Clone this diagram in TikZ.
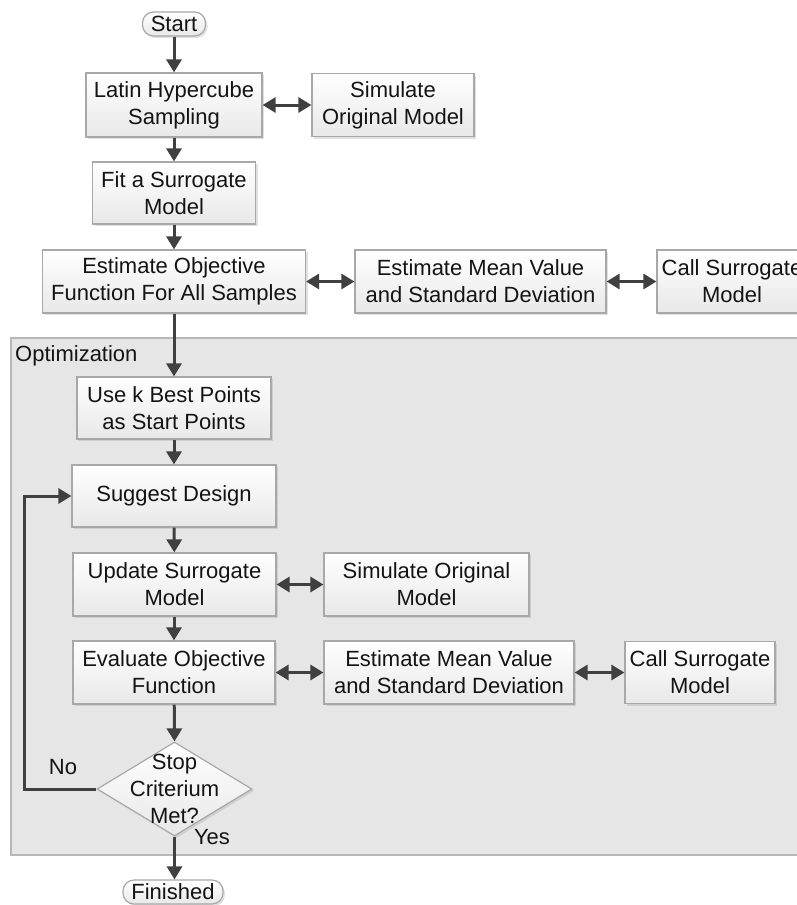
\documentclass[tikz,border=0pt]{standalone}
\usepackage{fontspec}
\setmainfont{Liberation Sans}
\usetikzlibrary{arrows.meta,shadows,shapes.geometric}
\definecolor{arr}{HTML}{404040}
\definecolor{bord}{HTML}{A8A8A8}
\definecolor{regfill}{HTML}{E6E6E6}
\definecolor{regbord}{HTML}{B8B8B8}
\definecolor{txt}{HTML}{141414}
\begin{document}
\begin{tikzpicture}[x=1pt,y=-1pt,
  font=\fontsize{22}{27}\selectfont,
  shade/.style={top color=white, bottom color=black!9,
    drop shadow={shadow xshift=2pt,shadow yshift=-2pt,opacity=0.35,fill=black!35}},
  box/.style={shade, draw=bord, line width=1.2pt, align=center, inner sep=0pt, text=txt},
  term/.style={box, rounded corners=11pt, minimum height=24pt},
  decis/.style={shade, draw=bord, line width=1.2pt, diamond, inner sep=0pt},
  lbl/.style={text=txt, inner sep=0pt, align=center},
  flow/.style={draw=arr, line width=3pt, -{Triangle[length=13pt,width=15pt]}},
  both/.style={draw=arr, line width=3pt, {Triangle[length=13pt,width=15pt]}-{Triangle[length=13pt,width=15pt]}},
]
\useasboundingbox (0,0) rectangle (797,905);
\clip (0,0) rectangle (797,905);

% optimization region
\path[draw=regbord, fill=regfill, line width=1.5pt] (11,338) rectangle (830,855);
\node[lbl, anchor=west] (optlabel) at (15,356) {Optimization};

% top part
\node[term, minimum width=63pt] (start) at (174,24) {Start};
\node[box, minimum width=176pt, minimum height=64pt] (lhs) at (174,105) {Latin Hypercube\\Sampling};
\node[box, minimum width=162pt, minimum height=63pt] (sim1) at (393,105) {Simulate\\Original Model};
\node[box, minimum width=163pt, minimum height=62pt] (fit) at (174,193) {Fit a Surrogate\\Model};
\node[box, minimum width=263pt, minimum height=63pt] (est1) at (174,281.5) {Estimate Objective\\Function For All Samples};
\node[box, minimum width=251pt, minimum height=63pt] (mean1) at (480.5,281.5) {Estimate Mean Value\\and Standard Deviation};
\node[box, minimum width=150pt, minimum height=63pt] (call1) at (732,281.5) {Call Surrogate\\Model};

% optimization part
\node[box, minimum width=194pt, minimum height=62pt] (usek) at (174,408) {Use k Best Points\\as Start Points};
\node[box, minimum width=204pt, minimum height=62pt] (sugg) at (174,496) {Suggest Design};
\node[box, minimum width=203pt, minimum height=63pt] (upd) at (174.5,584.5) {Update Surrogate\\Model};
\node[box, minimum width=205pt, minimum height=63pt] (sim2) at (426.5,584.5) {Simulate Original\\Model};
\node[box, minimum width=202pt, minimum height=63pt] (eval) at (174,672.5) {Evaluate Objective\\Function};
\node[box, minimum width=250pt, minimum height=63pt] (mean2) at (449,672.5) {Estimate Mean Value\\and Standard Deviation};
\node[box, minimum width=150pt, minimum height=62pt] (call2) at (700,672.5) {Call Surrogate\\Model};
\node[decis, minimum width=155pt, minimum height=94pt] (dec) at (174.5,789) {};
\node[lbl] (dectext) at (174.5,789) {Stop\\Criterium\\Met?};
\node[lbl] (no) at (63,767) {No};
\node[lbl] (yes) at (212,837) {Yes};
\node[term, minimum width=100pt] (fin) at (173,892) {Finished};

% connectors
\draw[flow] (start) -- (lhs);
\draw[flow] (lhs) -- (fit);
\draw[flow] (fit) -- (est1);
\draw[flow] (est1) -- (usek);
\draw[flow] (usek) -- (sugg);
\draw[flow] (sugg) -- (upd);
\draw[flow] (upd.south -| eval.north) -- (eval.north);
\draw[flow] (eval) -- (dec.north);
\draw[flow] (dec.south) -- (fin.north -| dec.south);
\coordinate (loopc) at (24,789);
\draw[flow] (dec.west) -- (loopc) |- (sugg.west);

\draw[both] (lhs.east) -- (lhs.east -| sim1.west);
\draw[both] (est1.east) -- (mean1.west);
\draw[both] (mean1.east) -- (call1.west);
\draw[both] (upd.east) -- (sim2.west);
\draw[both] (eval.east) -- (mean2.west);
\draw[both] (mean2.east) -- (call2.west);
\end{tikzpicture}
\end{document}
